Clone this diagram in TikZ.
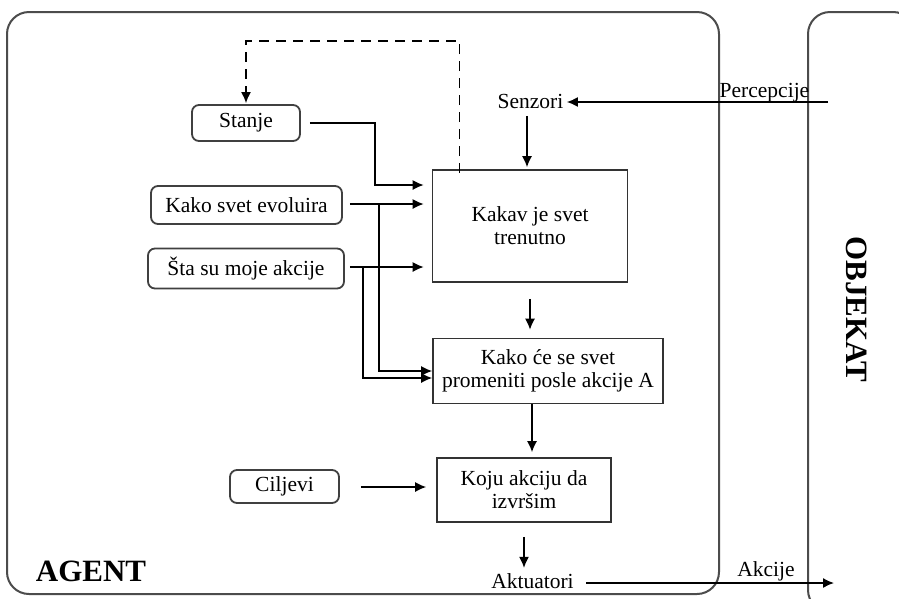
\documentclass[tikz,border=0pt]{standalone}
\usepackage{fontspec}
\setmainfont{Liberation Serif}
\usetikzlibrary{arrows.meta,calc}
\begin{document}
\begin{tikzpicture}[x=1pt,y=-1pt,
  txt/.style={font=\fontsize{21.5}{23}\selectfont, text=black},
  bigtxt/.style={font=\fontsize{31}{31}\selectfont\bfseries, text=black},
  rbox/.style={draw=black!75, line width=1.8pt, rounded corners=7pt, txt, inner sep=0pt},
  sbox/.style={draw=black!80, line width=1.6pt, txt, align=center, inner sep=0pt},
  frame/.style={draw=black!70, line width=2pt, rounded corners=22pt},
  arr/.style={draw=black, line width=1.5pt, -{Latex[length=11pt,width=10pt]}},
  dasharr/.style={arr, dash pattern=on 10pt off 7pt},
]
\useasboundingbox (0,0) rectangle (899,598);
\clip (0,0) rectangle (899,598);
\fill[white] (0,0) rectangle (899,598);

% outer frames
\draw[frame] (7,12) rectangle (719,594);
\draw[frame] (808,12) rectangle (915,612);

% nodes
\node[rbox, minimum width=108pt, minimum height=36pt] (stanje) at (246,123) {Stanje};
\node[rbox, minimum width=191pt, minimum height=38pt] (evol) at (246.5,205) {Kako svet evoluira};
\node[rbox, minimum width=196pt, minimum height=40pt] (sta) at (246,268.5) {Šta su moje akcije};
\node[rbox, minimum width=109pt, minimum height=33pt] (cilj) at (284.5,486.5) {Ciljevi};
\node[sbox, minimum width=195pt, minimum height=112pt] (kakav) at (530,226) {Kakav je svet\\trenutno};
\node[sbox, minimum width=230pt, minimum height=65pt] (kakoce) at (548,371) {Kako će se svet\\promeniti posle akcije A};
\node[sbox, minimum width=174pt, minimum height=64pt] (koju) at (524,490) {Koju akciju da\\izvršim};

\node[txt] (senz) at (530.5,101) {Senzori};
\node[txt] (akt) at (532.5,581) {Aktuatori};
\node[txt] (perc) at (764.5,93) {Percepcije};
\node[txt] (akc) at (766,571) {Akcije};
\node[bigtxt] (agent) at (91,571) {AGENT};
\node[bigtxt, rotate=-90] (obj) at (856.5,309.5) {OBJEKAT};

\coordinate (pin) at (828,102);
\coordinate (aout) at (834,583);
\coordinate (b1) at (379,204);
\coordinate (b2) at (363,267);

% connectors
\draw[arr] (pin) -- (senz.east |- pin);
\draw[arr, shorten <=4pt, shorten >=2pt] ([shift={(-3.5,0)}]senz.south) -- ([shift={(-3.5,0)}]senz.south |- kakav.north);
\draw[dasharr, shorten >=1pt] ([shift={(28,4)}]kakav.north west) |- (stanje.north |- 0,41) -- (stanje.north);
\draw[arr, shorten <=9pt, shorten >=8pt] (stanje.east) -| (375,185) -- (kakav.west |- 0,185);
\draw[arr, shorten <=7pt, shorten >=8pt] (evol.east |- b1) -- (kakav.west |- b1);
\draw[arr, shorten <=5pt, shorten >=8pt] (sta.east |- b2) -- (kakav.west |- b2);
\draw[arr] (b1) |- (kakoce.west |- 0,371);
\draw[arr] (b2) |- (kakoce.west |- 0,378);
\draw[arr, shorten <=16pt, shorten >=8pt] (kakav.south) -- (kakav.south |- kakoce.north);
\draw[arr, shorten >=5pt] ([shift={(-16,0)}]kakoce.south) -- ([shift={(-16,0)}]kakoce.south |- koju.north);
\draw[arr, shorten <=21pt, shorten >=10pt] (cilj.east |- 0,487) -- (koju.west |- 0,487);
\draw[arr, shorten <=14pt, shorten >=2pt] (koju.south) -- (akt.north -| koju.south);
\draw[arr, shorten <=9pt] (akt.east |- aout) -- (aout);
\end{tikzpicture}
\end{document}
